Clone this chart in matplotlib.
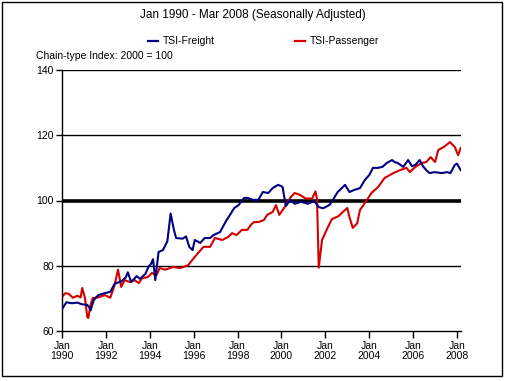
import matplotlib
matplotlib.use("Agg")
import matplotlib.pyplot as plt
from matplotlib.patches import Rectangle

plt.rcParams['font.family'] = ['Liberation Sans', 'DejaVu Sans']

freight_t = [1990.0, 1990.2, 1990.45, 1990.7, 1990.9, 1991.15, 1991.25, 1991.3, 1991.45, 1991.65,
             1991.95, 1992.2, 1992.4, 1992.7, 1992.9, 1993.0, 1993.15, 1993.4, 1993.55, 1993.8,
             1993.95, 1994.05, 1994.15, 1994.25, 1994.4, 1994.6, 1994.8, 1994.95, 1995.1, 1995.2,
             1995.5, 1995.65,
             1995.8, 1995.95, 1996.05, 1996.3, 1996.5, 1996.75, 1996.9, 1997.2, 1997.5, 1997.6,
             1997.85, 1998.05, 1998.3, 1998.45, 1998.7, 1998.95, 1999.15, 1999.4, 1999.6, 1999.85,
             2000.05, 2000.2, 2000.4, 2000.6, 2000.9, 2001.2, 2001.5, 2001.7, 2001.9, 2002.2,
             2002.4, 2002.55, 2002.9, 2003.1, 2003.3,
             2003.58, 2003.8, 2004.0, 2004.17, 2004.4, 2004.6, 2004.8, 2005.04, 2005.15, 2005.3,
             2005.55, 2005.77, 2005.95, 2006.1, 2006.3, 2006.45, 2006.6, 2006.75, 2006.97, 2007.3,
             2007.55, 2007.7, 2007.9, 2008.0, 2008.17]
freight_v = [66.7, 68.8, 68.5, 68.7, 68.2, 68.0, 67.2, 66.3, 69.5, 71.0,
             71.6, 72.0, 74.5, 75.2, 76.4, 78.0, 75.0, 76.8, 76.0, 77.5,
             79.8, 80.5, 82.0, 75.6, 84.2, 84.8, 87.5, 96.0, 91.0, 88.5,
             88.3, 89.0,
             85.8, 84.8, 87.9, 87.0, 88.5, 88.5, 89.4, 90.3, 94.0, 95.0,
             97.7, 98.6, 100.8, 100.8, 100.2, 100.2, 102.6, 102.3, 103.8, 104.8,
             104.2, 98.3, 100.2, 99.0, 99.6, 99.0, 99.8, 98.0, 97.6, 98.7,
             100.8, 102.5, 104.8, 102.6, 103.2,
             103.8, 106.3, 107.8, 110.0, 110.0, 110.3, 111.5, 112.4, 111.8, 111.5,
             110.3, 112.4, 110.5, 110.9, 112.4, 110.5, 109.3, 108.4, 108.7, 108.4,
             108.7, 108.4, 110.9, 111.3, 109.3]

passenger_t = [1990.0, 1990.15, 1990.3, 1990.5, 1990.7, 1990.85, 1990.92, 1991.05, 1991.15, 1991.2,
               1991.3, 1991.4, 1991.65, 1991.95, 1992.2, 1992.4, 1992.55, 1992.7, 1992.85, 1993.1,
               1993.3, 1993.5, 1993.65, 1993.9, 1994.1, 1994.3, 1994.45, 1994.7, 1995.05, 1995.4,
               1995.75,
               1996.05, 1996.2, 1996.45, 1996.75, 1996.97, 1997.3, 1997.57, 1997.75, 1997.95, 1998.2,
               1998.45, 1998.6, 1998.75, 1998.95, 1999.2, 1999.35, 1999.6, 1999.75, 1999.9, 2000.15,
               2000.4, 2000.6, 2000.85, 2001.1, 2001.4, 2001.55, 2001.62, 2001.7, 2001.85, 2002.1,
               2002.3, 2002.6, 2002.8, 2003.0, 2003.1, 2003.25, 2003.45,
               2003.58, 2003.9, 2004.1, 2004.4, 2004.7, 2005.1, 2005.4, 2005.7, 2005.85, 2006.1,
               2006.4, 2006.6, 2006.8, 2007.0, 2007.15, 2007.4, 2007.68, 2007.9, 2008.05, 2008.17]
passenger_v = [70.4, 71.6, 71.4, 70.2, 70.8, 70.3, 73.2, 70.0, 64.3, 64.0,
               68.0, 70.1, 70.3, 71.0, 70.2, 74.1, 78.8, 73.5, 75.6, 75.0,
               75.6, 74.7, 76.2, 76.5, 77.8, 77.0, 79.3, 78.8, 79.6, 79.3,
               80.2,
               82.7, 83.9, 85.8, 85.8, 88.5, 87.9, 88.8, 90.0, 89.4, 91.0,
               91.0, 92.5, 93.4, 93.4, 94.0, 95.6, 96.5, 98.6, 95.6, 98.0,
               100.8, 102.3, 101.7, 100.6, 100.6, 102.8, 100.5, 79.4, 87.9, 91.6,
               94.3, 95.2, 96.5, 97.7, 94.9, 91.6, 93.0,
               97.1, 100.2, 102.3, 104.1, 106.9, 108.4, 109.3, 110.0, 108.7, 110.3,
               111.5, 111.8, 113.3, 111.8, 115.5, 116.4, 117.9, 116.4, 113.9, 116.1]

xtick_years = list(range(1990, 2009, 2))
xtick_labels = [f"Jan\n{y}" for y in xtick_years]
ytick_vals = [60, 80, 100, 120, 140]

W, H = 507, 381
fig = plt.figure(figsize=(W / 100, H / 100), dpi=100)
ax = fig.add_axes([62 / W, 1 - 331 / H, (461 - 62) / W, (331 - 70) / H])

x0, x1 = 1990.0, 1990.0 + (461 - 62) / ((457 - 62) / 18.0)
ax.set_xlim(x0, x1)
ax.set_ylim(60, 140)

for g in [80, 120, 140]:
    ax.axhline(g, color='black', lw=1.0, zorder=1)
ax.axhline(100, color='black', lw=2.6, zorder=1)

ax.plot(freight_t, freight_v, color='#000080', lw=1.5, zorder=3, label='TSI-Freight')
ax.plot(passenger_t, passenger_v, color='#d40000', lw=1.5, zorder=2, label='TSI-Passenger')

for s in ['top', 'right']:
    ax.spines[s].set_visible(False)
ax.spines['left'].set_linewidth(1.0)
ax.spines['bottom'].set_linewidth(1.0)

ax.set_xticks(xtick_years)
ax.set_xticklabels(xtick_labels, fontsize=7.5, linespacing=1.0)
ax.set_yticks(ytick_vals)
ax.set_yticklabels([str(v) for v in ytick_vals], fontsize=7.5)
ax.tick_params(axis='x', direction='out', length=5, width=1, pad=2)
ax.tick_params(axis='y', direction='out', length=4, width=1, pad=2)

fig.text(253 / W, 1 - 15 / H, "Jan 1990 - Mar 2008 (Seasonally Adjusted)",
         ha='center', va='center', fontsize=8.5)
fig.text(36 / W, 1 - 56 / H, "Chain-type Index: 2000 = 100",
         ha='left', va='center', fontsize=7.5)

# legend entries
fig.lines.append(plt.Line2D([148 / W, 158 / W], [1 - 41 / H] * 2, color='#000080', lw=1.6,
                            transform=fig.transFigure))
fig.text(163 / W, 1 - 41 / H, "TSI-Freight", ha='left', va='center', fontsize=7.5)
fig.lines.append(plt.Line2D([295 / W, 305 / W], [1 - 41 / H] * 2, color='#d40000', lw=1.6,
                            transform=fig.transFigure))
fig.text(310 / W, 1 - 41 / H, "TSI-Passenger", ha='left', va='center', fontsize=7.5)

fig.patches.append(Rectangle((1.5 / W, 1 - 376 / H), 500 / W, 374.5 / H, fill=False,
                             edgecolor='black', lw=1.0, transform=fig.transFigure))

fig.savefig("out.png", dpi=100)
